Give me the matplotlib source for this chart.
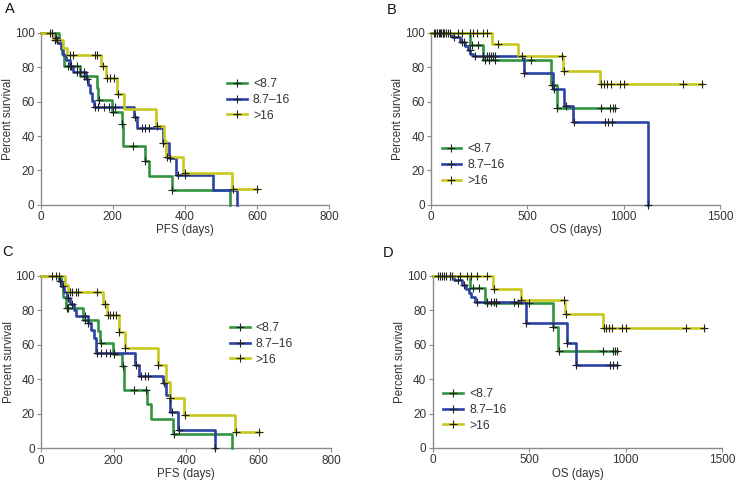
import numpy as np
import matplotlib
matplotlib.use("Agg")
import matplotlib.pyplot as plt
from matplotlib.lines import Line2D

plt.rcParams['font.family'] = ['Liberation Sans', 'DejaVu Sans']

groups = ['<8.7', '8.7–16', '>16']
colors = ['#339440', '#2b42a5', '#c8c81e']

# ---------------- Panel A (PFS) ----------------
A_green_t = [0, 52, 58, 65, 109, 155, 160, 197, 225, 229, 289, 300, 363, 524]
A_green_s = [100, 94, 88, 81, 75, 68, 61, 54, 47, 34, 25.5, 17, 8.5, 0]
A_green_c = [75, 80, 100, 120, 162, 200, 226, 255, 290, 364]

A_blue_t = [0, 38, 48, 55, 62, 70, 80, 90, 125, 132, 138, 143, 147, 258, 268, 338, 355, 376, 477, 545]
A_blue_s = [100, 97, 94, 90.5, 87, 84, 80.5, 77, 73.5, 70, 65, 60.5, 57, 51, 44.5, 36, 27, 17.5, 8.8, 0]
A_blue_c = [30, 42, 85, 100, 110, 120, 128, 150, 160, 175, 190, 205, 262, 280, 290, 300, 340, 360, 380, 400]

A_yellow_t = [0, 34, 62, 74, 168, 180, 212, 231, 321, 342, 349, 395, 531]
A_yellow_s = [100, 96, 91, 87, 80.5, 74, 64.5, 55.5, 46, 37, 28, 18.3, 9]
A_yellow_c = [25, 40, 45, 80, 90, 150, 155, 173, 185, 192, 203, 215, 322, 350, 400, 533, 600]

# ---------------- Panel B (OS) ----------------
B_green_t = [0, 202, 272, 623, 652]
B_green_s = [100, 92.8, 84.5, 70, 56.5]
B_green_c = [20, 40, 60, 80, 215, 245, 280, 300, 330, 520, 630, 655, 880, 930, 945, 955]

B_blue_t = [0, 110, 150, 175, 190, 205, 220, 484, 635, 692, 739, 1128]
B_blue_s = [100, 97.5, 95, 92.5, 90, 88, 86.6, 76.9, 67.3, 57.7, 48, 0]
B_blue_c = [15, 30, 50, 70, 90, 120, 160, 170, 200, 230, 270, 290, 300, 310, 320, 330,
            484, 640, 700, 740, 905, 920, 940, 1128]

B_yellow_t = [0, 315, 453, 687, 877]
B_yellow_s = [100, 93.6, 86.6, 78, 70.3]
B_yellow_c = [30, 45, 60, 100, 140, 160, 200, 220, 240, 270, 290, 350, 470, 680, 690,
              880, 898, 915, 932, 981, 1002, 1310, 1408]

# ---------------- Panel C (PFS) ----------------
C_green_t = [0, 55, 60, 68, 116, 157, 162, 199, 224, 229, 291, 302, 365, 526]
C_green_s = [100, 94, 88, 81.5, 74.5, 68, 61, 54.5, 47.5, 34, 25.5, 17, 8.5, 0]
C_green_c = [70, 75, 120, 165, 200, 225, 255, 290, 366]

C_blue_t = [0, 50, 55, 62, 70, 80, 90, 95, 128, 137, 145, 150, 259, 270, 337, 345, 355, 378, 480]
C_blue_s = [100, 97, 94, 91, 87, 84, 80.5, 77, 73, 68.5, 64, 55.5, 48.5, 41.7, 38, 31, 21, 10.4, 0]
C_blue_c = [30, 40, 52, 60, 75, 85, 120, 130, 155, 165, 180, 190, 200, 262, 275, 285, 295,
            340, 360, 380, 480]

C_yellow_t = [0, 65, 75, 171, 182, 214, 231, 321, 343, 355, 395, 536]
C_yellow_s = [100, 95, 90.5, 84, 77.5, 67.5, 58, 48.5, 38.7, 29, 19.4, 9.7]
C_yellow_c = [50, 80, 85, 95, 100, 155, 175, 185, 190, 197, 205, 215, 232, 323, 355, 398, 538, 602]

# ---------------- Panel D (OS) ----------------
D_green_t = [0, 193, 271, 621, 651]
D_green_s = [100, 93, 84.5, 70.5, 56.5]
D_green_c = [210, 240, 280, 330, 440, 500, 625, 655, 880, 935, 945, 955]

D_blue_t = [0, 110, 150, 170, 190, 200, 220, 483, 694, 740]
D_blue_s = [100, 97.5, 95, 92.5, 90, 88, 85, 72.7, 60.9, 48.4]
D_blue_c = [30, 50, 70, 90, 100, 130, 160, 230, 280, 300, 320, 330, 420, 485, 695, 740, 920, 935, 956]

D_yellow_t = [0, 314, 456, 685, 884]
D_yellow_s = [100, 92.6, 85.9, 78, 70]
D_yellow_c = [40, 60, 90, 140, 180, 200, 230, 280, 320, 460, 680, 690, 885, 900, 915, 930,
              980, 1000, 1310, 1405]

panels = [
    dict(letter='A', letter_xy=(0.0068, 0.981), xlabel='PFS (days)', xmax=800,
         xticks=[0, 200, 400, 600, 800],
         rect=[0.0551, 0.5788, 0.3901, 0.3533], leg=(0.63, 0.765),
         data=[(A_green_t, A_green_s, A_green_c), (A_blue_t, A_blue_s, A_blue_c),
               (A_yellow_t, A_yellow_s, A_yellow_c)]),
    dict(letter='B', letter_xy=(0.5237, 0.979), xlabel='OS (days)', xmax=1500,
         xticks=[0, 500, 1000, 1500],
         rect=[0.5832, 0.5788, 0.3911, 0.3533], leg=(0.02, 0.385),
         data=[(B_green_t, B_green_s, B_green_c), (B_blue_t, B_blue_s, B_blue_c),
               (B_yellow_t, B_yellow_s, B_yellow_c)]),
    dict(letter='C', letter_xy=(0.003, 0.481), xlabel='PFS (days)', xmax=800,
         xticks=[0, 200, 400, 600, 800],
         rect=[0.0559, 0.0776, 0.3920, 0.3545], leg=(0.635, 0.76),
         data=[(C_green_t, C_green_s, C_green_c), (C_blue_t, C_blue_s, C_blue_c),
               (C_yellow_t, C_yellow_s, C_yellow_c)]),
    dict(letter='D', letter_xy=(0.518, 0.479), xlabel='OS (days)', xmax=1500,
         xticks=[0, 500, 1000, 1500],
         rect=[0.5855, 0.0782, 0.3919, 0.3539], leg=(0.02, 0.375),
         data=[(D_green_t, D_green_s, D_green_c), (D_blue_t, D_blue_s, D_blue_c),
               (D_yellow_t, D_yellow_s, D_yellow_c)]),
]

fig = plt.figure(figsize=(7.39, 4.86), dpi=100)
axcol = '#8c8c8c'
txtcol = '#333333'

for p in panels:
    ax = fig.add_axes(p['rect'])
    for (t, s, c), col in zip(p['data'], colors):
        t = np.asarray(t, float)
        s = np.asarray(s, float)
        c = np.asarray(c, float)
        tend = max(t[-1], c.max())
        tt = np.append(t, tend)
        ss = np.append(s, s[-1])
        ax.step(tt, ss, where='post', color=col, lw=1.9, clip_on=False, zorder=3)
        idx = np.searchsorted(t, c, side='right') - 1
        ax.plot(c, s[idx], ls='none', marker='+', ms=5.5, mew=0.8, color='#222222',
                clip_on=False, zorder=4)
    ax.set_xlim(0, p['xmax'])
    ax.set_ylim(0, 100)
    ax.set_xticks(p['xticks'])
    ax.set_yticks([0, 20, 40, 60, 80, 100])
    for side in ['top', 'right']:
        ax.spines[side].set_visible(False)
    for side in ['left', 'bottom']:
        ax.spines[side].set_color(axcol)
        ax.spines[side].set_linewidth(1.0)
    ax.tick_params(axis='both', direction='out', length=3, width=0.8, color=axcol,
                   labelsize=8.5, labelcolor=txtcol, pad=1.5)
    ax.set_xlabel(p['xlabel'], fontsize=8.3, color=txtcol, labelpad=1)
    ax.set_ylabel('Percent survival', fontsize=8.3, color=txtcol)
    ax.yaxis.set_label_coords(-0.092, 0.5)
    handles = [Line2D([0], [0], color=col, lw=1.9, marker='+', ms=5.5, mew=0.8,
                      mec='#222222') for col in colors]
    ax.legend(handles, groups, loc='upper left', bbox_to_anchor=p['leg'], frameon=False,
              fontsize=8.8, handlelength=1.6, handletextpad=0.5, labelspacing=0.3,
              borderaxespad=0, labelcolor=txtcol)
    fig.text(p['letter_xy'][0], p['letter_xy'][1], p['letter'], fontsize=10.5,
             color='#111111', ha='left', va='center')

fig.savefig('out.png', dpi=100)
